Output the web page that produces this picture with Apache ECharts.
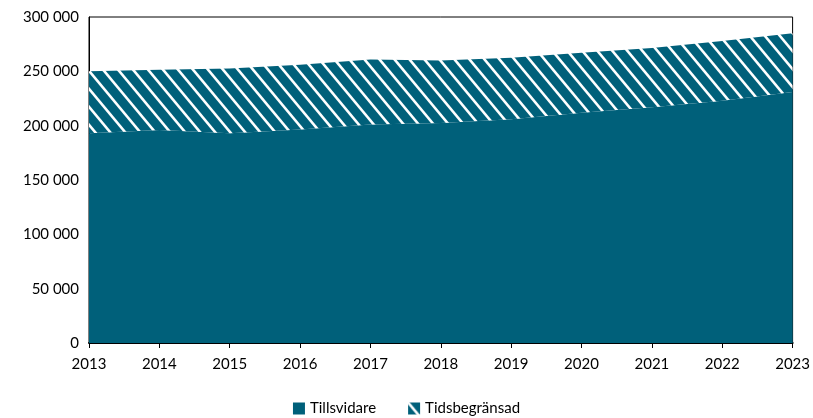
<!doctype html>
<html lang="sv">
<head>
<meta charset="utf-8" />
<title>Tillsvidare och tidsbegränsad</title>
<script src="https://cdn.jsdelivr.net/npm/echarts@6/dist/echarts.min.js"></script>
<style>
  html, body { margin: 0; padding: 0; background: #fff; }
  #chart { width: 813px; height: 418px; }
</style>
</head>
<body>
<div id="chart"></div>
<script>
  const years = ['2013', '2014', '2015', '2016', '2017', '2018', '2019', '2020', '2021', '2022', '2023'];
  const tillsvidare = [193000, 196000, 193000, 196500, 201000, 202500, 206000, 212000, 217000, 223000, 231000];
  const tidsbegransad = [57000, 55500, 59500, 59500, 60000, 57500, 56500, 55000, 54500, 55000, 54000];

  const teal = '#00607A';

  // striped fill for the temporary jobs, big tile so the lines wrap cleanly
  function stripes() {
    const step = 15, w = 60, h = 72;
    const c = document.createElement('canvas');
    c.width = w; c.height = h;
    const ctx = c.getContext('2d');
    ctx.fillStyle = teal;
    ctx.fillRect(0, 0, w, h);
    ctx.strokeStyle = '#fff';
    ctx.lineWidth = 2.6;
    for (let x0 = -2 * w; x0 <= 2 * w; x0 += step) {
      ctx.beginPath();
      ctx.moveTo(x0 - w, -h);
      ctx.lineTo(x0 + 2 * w, 2 * h);
      ctx.stroke();
    }
    return c;
  }
  const pattern = stripes();

  const font = 'Lato, "Open Sans", sans-serif';
  const chart = echarts.init(document.getElementById('chart'));
  chart.setOption({
    animation: false,
    grid: { left: 89, right: 20, top: 17, bottom: 75, show: true, borderColor: '#000', borderWidth: 1 },
    legend: {
      bottom: -3,
      icon: 'rect',
      itemWidth: 12, itemHeight: 12, itemGap: 32,
      textStyle: { fontFamily: font, fontSize: 15, color: '#000' },
      data: ['Tillsvidare', 'Tidsbegränsad']
    },
    xAxis: {
      type: 'category',
      data: years,
      boundaryGap: false,
      axisLine: { lineStyle: { color: '#000', width: 2 } },
      axisTick: { alignWithLabel: true, length: 5, lineStyle: { color: '#000' } },
      axisLabel: { fontFamily: font, fontSize: 15, color: '#000', margin: 14 }
    },
    yAxis: {
      type: 'value',
      min: 0, max: 300000, interval: 50000,
      axisLine: { show: true, lineStyle: { color: '#000' } },
      axisTick: { show: false },
      splitLine: { show: false },
      axisLabel: {
        fontFamily: font, fontSize: 15, color: '#000', margin: 10,
        formatter: v => v === 0 ? '0' : String(v).replace(/\B(?=(\d{3})+(?!\d))/g, ' ')
      }
    },
    series: [
      {
        name: 'Tillsvidare', type: 'line', stack: 'tot', data: tillsvidare,
        symbol: 'none', lineStyle: { width: 0 },
        itemStyle: { color: teal },
        areaStyle: { color: teal, opacity: 1 }
      },
      {
        name: 'Tidsbegränsad', type: 'line', stack: 'tot', data: tidsbegransad,
        symbol: 'none', lineStyle: { width: 0 },
        itemStyle: { color: { image: pattern, repeat: 'repeat' } },
        areaStyle: { color: { image: pattern, repeat: 'repeat' }, opacity: 1 }
      }
    ]
  });
</script>
</body>
</html>
